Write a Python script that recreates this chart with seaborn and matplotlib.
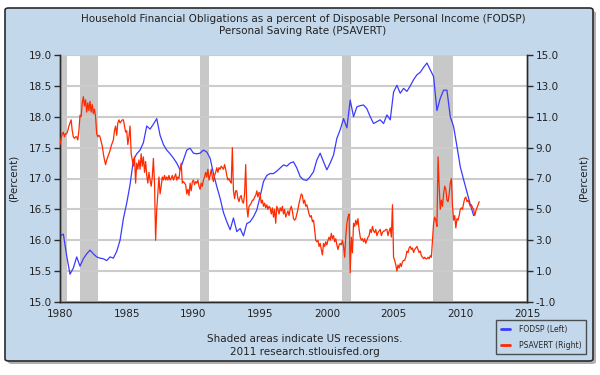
import numpy as np
import pandas as pd
import matplotlib
matplotlib.use('Agg')
import matplotlib.pyplot as plt
import seaborn as sns
from matplotlib.patches import FancyBboxPatch
from matplotlib.lines import Line2D

# FODSP, quarterly, 1980Q1 - 2011Q1 (left axis)
fodsp = [
    16.07, 16.10, 15.75, 15.45,  # 1980
    15.55, 15.73, 15.58, 15.70,  # 1981
    15.78, 15.84, 15.78, 15.73,  # 1982
    15.71, 15.70, 15.67, 15.73,  # 1983
    15.71, 15.82, 16.00, 16.35,  # 1984
    16.60, 16.90, 17.30, 17.40,  # 1985
    17.46, 17.58, 17.85, 17.80,  # 1986
    17.88, 17.97, 17.70, 17.55,  # 1987
    17.46, 17.40, 17.33, 17.25,  # 1988
    17.14, 17.30, 17.46, 17.49,  # 1989
    17.41, 17.40, 17.41, 17.46,  # 1990
    17.43, 17.33, 17.08, 16.87,  # 1991
    16.68, 16.45, 16.30, 16.17,  # 1992
    16.36, 16.14, 16.19, 16.07,  # 1993
    16.27, 16.30, 16.38, 16.49,  # 1994
    16.71, 16.95, 17.05, 17.08,  # 1995
    17.08, 17.12, 17.17, 17.22,  # 1996
    17.20, 17.25, 17.27, 17.17,  # 1997
    17.03, 16.98, 16.97, 17.03,  # 1998
    17.11, 17.30, 17.41, 17.27,  # 1999
    17.14, 17.25, 17.38, 17.65,  # 2000
    17.79, 17.97, 17.82, 18.27,  # 2001
    18.00, 18.16, 18.18, 18.19,  # 2002
    18.13, 18.00, 17.89, 17.92,  # 2003
    17.95, 17.89, 18.03, 17.95,  # 2004
    18.40, 18.51, 18.38, 18.46,  # 2005
    18.41, 18.50, 18.60, 18.68,  # 2006
    18.72, 18.80, 18.87, 18.76,  # 2007
    18.65, 18.10, 18.30, 18.43,  # 2008
    18.43, 18.00, 17.84, 17.52,  # 2009
    17.19, 16.98, 16.78, 16.58,  # 2010
    16.40,                       # 2011
]

# PSAVERT, monthly, 1980-01 - 2011-06 (right axis)
psavert = [
    9.2, 9.6, 9.9, 10.0, 9.7, 9.9, 9.9, 10.1, 10.4, 10.6, 10.8, 10.1,     # 1980
    9.7, 9.6, 9.7, 9.7, 9.5, 10.1, 11.1, 11.0, 11.9, 12.3, 11.7, 12.1,    # 1981
    11.3, 11.9, 11.4, 12.0, 11.3, 11.8, 11.2, 11.5, 11.0, 9.9, 9.7, 9.8,  # 1982
    9.7, 9.4, 9.1, 8.6, 8.2, 7.9, 8.2, 8.4, 8.6, 8.8, 9.1, 9.3,           # 1983
    9.5, 10.1, 10.4, 9.8, 10.6, 10.8, 10.6, 10.7, 10.8, 10.8, 10.4, 10.0, # 1984
    10.1, 9.2, 9.7, 10.4, 8.6, 8.2, 7.8, 8.4, 6.7, 8.0, 7.6, 8.2,         # 1985
    7.6, 8.6, 7.8, 8.4, 7.4, 8.1, 7.2, 6.7, 7.4, 6.9, 6.5, 7.1,           # 1986
    8.3, 6.7, 3.0, 5.0, 6.0, 7.1, 6.0, 6.5, 7.1, 6.9, 7.2, 6.9,           # 1987
    7.1, 6.9, 7.2, 6.9, 7.0, 7.2, 6.9, 7.1, 7.3, 6.9, 7.1, 7.0,           # 1988
    7.6, 8.0, 6.7, 6.8, 6.7, 6.6, 6.0, 6.3, 5.9, 6.7, 6.2, 6.8,           # 1989
    6.9, 6.6, 6.8, 6.7, 6.9, 6.5, 6.3, 6.7, 6.5, 6.9, 7.1, 7.4,           # 1990
    7.1, 7.6, 6.9, 7.2, 7.6, 7.1, 6.8, 7.2, 7.4, 7.7, 7.4, 7.7,           # 1991
    7.6, 7.8, 7.7, 7.6, 7.9, 7.6, 7.2, 6.9, 7.0, 6.8, 6.7, 9.0,           # 1992
    6.2, 5.7, 6.2, 6.2, 5.7, 5.5, 5.8, 5.9, 5.5, 5.4, 6.0, 7.9,           # 1993
    5.2, 4.5, 5.2, 5.3, 5.4, 5.6, 5.6, 5.8, 5.9, 6.2, 5.8, 6.1,           # 1994
    6.0, 5.4, 5.6, 5.2, 5.4, 5.1, 5.3, 5.0, 5.2, 5.1, 4.7, 5.1,           # 1995
    4.5, 5.0, 4.1, 5.2, 5.0, 4.7, 5.1, 4.9, 5.2, 4.7, 5.0, 4.5,           # 1996
    4.7, 4.9, 4.6, 5.0, 5.2, 4.9, 4.4, 4.3, 4.4, 4.7, 5.0, 5.4,           # 1997
    5.7, 6.0, 5.9, 5.4, 5.6, 5.2, 5.3, 5.0, 4.7, 4.5, 4.6, 4.2,           # 1998
    4.3, 3.7, 3.0, 2.9, 3.0, 2.6, 2.8, 2.4, 2.05, 2.8, 2.6, 2.9,          # 1999
    2.7, 3.0, 3.2, 3.0, 3.45, 3.1, 3.3, 2.9, 3.1, 2.7, 2.4, 2.7,          # 2000
    2.8, 2.7, 3.0, 2.6, 1.9, 3.2, 4.1, 4.5, 4.7, 0.9, 3.2, 2.2,           # 2001
    4.1, 3.9, 4.3, 4.0, 4.4, 3.7, 3.2, 3.0, 3.1, 2.9, 3.1, 2.8,           # 2002
    3.0, 3.2, 3.3, 3.7, 3.5, 3.9, 3.6, 3.5, 3.7, 3.3, 3.5, 3.6,           # 2003
    3.7, 3.3, 3.5, 3.6, 3.6, 3.7, 3.7, 3.3, 3.6, 3.8, 3.2, 5.3,           # 2004
    1.9, 1.7, 1.4, 1.0, 1.4, 1.2, 1.5, 1.3, 1.6, 1.7, 1.7, 1.9,           # 2005
    2.3, 2.2, 2.5, 2.6, 2.4, 2.5, 2.2, 2.4, 2.5, 2.6, 2.4, 2.2,           # 2006
    2.3, 2.0, 1.9, 1.8, 1.9, 1.8, 1.8, 1.9, 1.8, 2.0, 1.9, 3.0,           # 2007
    4.1, 4.5, 4.3, 3.9, 8.4, 6.5, 5.0, 5.6, 5.2, 6.0, 6.5, 6.3,           # 2008
    5.6, 5.5, 6.0, 6.7, 7.0, 5.2, 4.3, 4.6, 3.8, 4.4, 4.3, 4.6,           # 2009
    5.0, 5.1, 5.0, 5.4, 5.7, 5.8, 5.5, 5.6, 5.4, 5.2, 5.3, 5.1,           # 2010
    5.0, 4.6, 4.9, 5.1, 5.3, 5.5,                                         # 2011
]

rec_start = [1980.0, 1981.5, 1990.5, 2001.17, 2007.92]
rec_end = [1980.5, 1982.83, 1991.17, 2001.83, 2009.42]

title_lines = ['Household Financial Obligations as a percent of Disposable Personal Income (FODSP)',
               'Personal Saving Rate (PSAVERT)']
footer_lines = ['Shaded areas indicate US recessions.', '2011 research.stlouisfed.org']

df_f = pd.DataFrame({'year': 1980 + np.arange(len(fodsp)) / 4, 'value': fodsp})
df_p = pd.DataFrame({'year': 1980 + np.arange(len(psavert)) / 12, 'value': psavert})

sns.set_style('white')
plt.rcParams['font.family'] = ['DejaVu Sans']

panel_col = '#c4d8ec'
blue = '#3b3bff'
red = '#ff2a00'
dark = '#2b2b2b'
txt = '#222222'

fig = plt.figure(figsize=(6, 3.75), dpi=100)
fig.patch.set_facecolor('white')

W, H = 600, 375
shadow = FancyBboxPatch((8 / W, 1 - 364 / H), 588 / W, 353 / H, boxstyle='round,pad=0,rounding_size=0.006',
                        transform=fig.transFigure, facecolor='#b0b0b0', edgecolor='none', zorder=-2)
panel = FancyBboxPatch((5 / W, 1 - 361 / H), 588 / W, 353 / H, boxstyle='round,pad=0,rounding_size=0.006',
                       transform=fig.transFigure, facecolor=panel_col, edgecolor=dark, lw=1.2, zorder=-1)
fig.patches.extend([shadow, panel])

ax = fig.add_axes([60 / W, 1 - 302 / H, 467 / W, 247 / H])
ax.set_facecolor('white')
ax2 = ax.twinx()

for s, e in zip(rec_start, rec_end):
    ax.axvspan(s, e, color='#c8c8c8', lw=0, zorder=0)

sns.lineplot(data=df_f, x='year', y='value', ax=ax, color=blue, lw=0.9, zorder=3)
sns.lineplot(data=df_p, x='year', y='value', ax=ax2, color=red, lw=0.9, zorder=3)

ax.set_xlim(1980, 2015)
ax.set_ylim(15, 19)
ax2.set_ylim(-1, 15)
ax.set_xticks(np.arange(1980, 2016, 5))
ax.set_yticks(np.arange(15, 19.01, 0.5))
ax2.set_yticks(np.arange(-1, 15.01, 2))
ax.set_yticklabels([f'{v:.1f}' for v in np.arange(15, 19.01, 0.5)])
ax2.set_yticklabels([f'{v:.1f}' for v in np.arange(-1, 15.01, 2)])

ax.yaxis.grid(True, color='#cccccc', lw=1.5, zorder=1)
ax.xaxis.grid(False)
ax.set_axisbelow(True)

for a in (ax, ax2):
    for sp in a.spines.values():
        sp.set_color(dark)
        sp.set_linewidth(1.0)
    a.spines['top'].set_visible(False)
ax.tick_params(axis='x', direction='in', length=5, width=1, color=dark, labelsize=7.5, labelcolor=txt, pad=5)
ax.tick_params(axis='y', direction='out', length=4, width=1, color=dark, labelsize=7.5, labelcolor=txt, pad=2)
ax2.tick_params(axis='y', direction='out', length=4, width=1, color=dark, labelsize=7.5, labelcolor=txt, pad=2)

ax.set_xlabel('')
ax.set_ylabel('(Percent)', fontsize=7.5, color=txt)
ax2.set_ylabel('(Percent)', fontsize=7.5, color=txt)
ax.yaxis.set_label_coords(-41 / 467, 0.5)
ax2.yaxis.set_label_coords(1 + 52 / 467, 0.5)

fig.text(0.505, 1 - 19 / H, title_lines[0], ha='center', va='center', fontsize=7.5, color=txt)
fig.text(0.505, 1 - 31 / H, title_lines[1], ha='center', va='center', fontsize=7.5, color=txt)
fig.text(305 / W, 1 - 339 / H, footer_lines[0], ha='center', va='center', fontsize=7.5, color=txt)
fig.text(305 / W, 1 - 352 / H, footer_lines[1], ha='center', va='center', fontsize=7.5, color=txt)

handles = [Line2D([0], [0], color=blue, lw=2), Line2D([0], [0], color=red, lw=2)]
leg = fig.legend(handles, ['FODSP (Left)', 'PSAVERT (Right)'], loc='lower right',
                 bbox_to_anchor=(590 / W, 1 - 358 / H), fontsize=5.5, frameon=True, fancybox=False,
                 handlelength=1.2, handletextpad=1.2, borderpad=0.6, labelspacing=0.9)
leg.get_frame().set_facecolor(panel_col)
leg.get_frame().set_edgecolor(dark)
leg.get_frame().set_linewidth(1.0)

fig.savefig('out.png', dpi=100)
